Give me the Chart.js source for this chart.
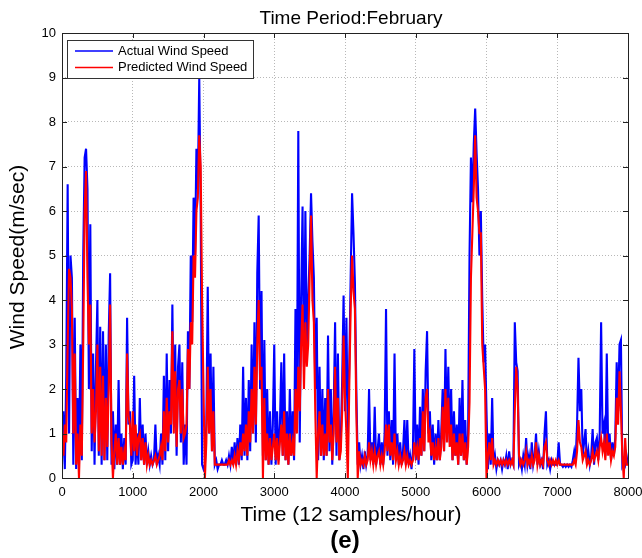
<!DOCTYPE html>
<html>
<head>
<meta charset="utf-8">
<script src="https://cdn.jsdelivr.net/npm/chart.js@4"></script>
<style>
  html, body { margin: 0; padding: 0; background: #fff; }
  #wrap { width: 642px; height: 558px; }
</style>
</head>
<body>
<div id="wrap"><canvas id="c" width="642" height="558"></canvas></div>
<script>
// Wind speed record for February, one value every SAMPLE_STEP samples (12 samples/hour)
const SAMPLE_STEP = 20;

const actualWind = [
  0.3,1.5,0.2,2.3,6.6,1.0,5.0,4.5,0.3,3.6, 0.2,1.8,0.3,3.0,0.4,5.0,7.2,7.4,6.5,2.0, 5.7,0.6,2.8,0.3,2.5,4.0,0.5,3.4,0.3,3.3, 0.4,3.0,0.4,3.2,4.6,0.3,1.5,0.2,1.2,0.3, 2.2,0.3,1.0,0.2,0.9,0.3,3.6,1.2,1.5,0.3,
  0.4,2.3,0.3,1.0,0.3,1.8,0.4,1.2,0.3,1.0, 0.3,0.6,0.3,0.5,0.3,0.4,1.2,0.3,0.5,0.3, 1.0,0.3,2.3,0.4,2.8,0.6,2.2,1.0,3.9,1.2, 3.0,0.5,2.5,3.0,0.8,2.6,0.3,1.2,0.3,3.3, 2.0,5.0,3.5,6.3,5.0,7.4,6.5,9.0,6.0,0.3,
  0.2,0.3,1.2,4.3,1.0,2.8,0.6,2.5,0.3,0.4, 0.2,0.3,0.3,0.4,0.3,0.3,0.4,0.3,0.5,0.3, 0.7,0.3,0.8,0.3,0.9,0.3,1.2,0.4,2.5,0.5, 1.8,0.4,2.2,0.6,3.0,1.0,3.5,0.8,4.6,5.9, 2.0,4.2,0.5,3.1,0.4,2.0,0.3,1.5,0.3,1.2,
  3.0,0.3,1.5,0.4,1.2,2.6,0.5,2.8,0.4,1.5, 0.3,2.0,0.5,1.5,0.4,3.8,1.5,7.8,0.8,4.0, 6.1,2.5,6.0,3.0,4.0,5.0,6.4,5.3,4.5,2.0, 3.6,0.4,2.5,0.5,2.0,0.4,1.8,0.5,3.2,0.6, 2.0,0.3,1.5,3.5,0.5,2.8,0.4,0.8,2.2,4.1,
  1.5,3.6,1.0,2.5,4.5,6.4,5.5,4.4,2.0,0.3, 0.8,0.3,0.5,0.2,0.6,0.3,0.5,2.0,0.4,0.8, 0.3,1.6,0.3,0.6,1.0,0.3,0.8,0.3,1.0,3.8, 0.5,1.5,0.4,1.3,0.3,2.8,0.4,1.0,0.3,0.8, 0.3,0.6,1.3,0.3,1.3,0.3,0.5,0.2,0.6,2.9,
  0.4,1.2,0.3,1.6,0.5,2.0,0.6,2.4,3.3,1.0, 1.5,0.4,1.2,0.3,1.0,0.4,1.3,0.4,1.0,2.0, 0.6,2.9,1.0,2.5,0.8,2.0,0.4,1.5,0.5,1.2, 0.3,1.8,0.5,2.2,0.4,1.3,0.3,1.0,5.0,7.2, 6.2,7.5,8.3,7.3,6.5,5.0,6.0,4.0,2.6,3.0,
  1.5,0.2,1.0,0.3,1.8,0.3,0.5,0.2,0.4,0.3, 0.4,0.2,0.4,0.3,0.5,0.2,0.6,0.3,0.4,0.3, 3.5,2.6,2.4,0.3,0.4,0.2,0.5,0.3,0.9,0.3, 0.5,0.2,0.8,0.3,0.5,1.0,0.3,0.6,0.3,0.4, 0.2,1.0,1.5,0.3,0.4,0.2,0.4,0.3,0.3,0.3,
  0.3,0.8,0.3,0.3,0.25,0.3,0.25,0.3,0.25,0.3, 0.25,0.4,0.6,0.4,1.2,2.7,1.5,2.0,0.5,0.8, 1.1,0.3,0.6,0.3,0.5,1.1,0.3,0.8,0.9,0.4, 1.0,3.5,1.0,1.2,0.5,2.8,0.6,1.0,0.4,0.8, 0.5,0.9,2.6,1.5,3.0,3.1,0.3,0.4,0.3,0.5,
  0.3
];

const predictedWind = [
  1.0,0.5,1.2,0.8,3.0,4.7,4.5,3.8,1.0,2.8, 0.3,1.0,0.0,1.2,0.5,3.0,6.0,6.9,4.5,3.0, 3.9,1.0,2.0,0.8,1.5,3.0,0.6,2.5,0.5,2.3, 0.4,1.8,0.7,2.0,3.9,0.8,0.0,0.6,1.0,0.3, 0.9,0.3,0.7,0.3,0.6,0.4,2.8,1.4,1.2,0.5,
  1.5,0.6,1.2,0.5,0.9,1.0,0.4,0.9,0.3,0.8, 0.3,0.5,0.3,0.4,0.3,0.4,0.5,0.3,0.4,0.5, 0.7,0.4,1.5,0.6,1.8,0.8,1.5,1.2,3.3,1.0, 2.4,0.7,2.0,2.2,1.0,2.0,0.9,1.0,1.2,2.9, 2.0,3.5,3.0,5.0,4.5,6.0,6.3,7.7,7.0,4.0,
  2.0,0.0,0.8,2.5,1.0,2.0,0.6,1.5,0.3,0.3, 0.3,0.3,0.3,0.3,0.3,0.3,0.3,0.3,0.4,0.3, 0.4,0.3,0.5,0.3,0.6,0.4,0.8,0.5,1.0,0.6, 1.2,0.5,1.5,0.8,2.0,1.0,2.5,1.2,3.0,4.0, 2.2,2.5,0.0,1.8,0.4,1.0,0.3,0.9,0.4,0.7,
  1.0,0.4,0.9,0.3,0.8,1.2,0.5,1.5,0.4,1.0, 0.3,1.0,0.5,0.8,0.5,2.0,1.0,2.5,1.5,3.0, 3.9,2.0,3.5,2.5,3.0,4.5,5.9,4.0,3.5,1.5, 0.0,1.0,1.5,0.5,1.2,0.5,1.0,0.5,2.0,0.8, 1.2,0.4,1.0,2.5,0.8,1.8,0.4,0.6,1.5,3.2,
  1.8,1.0,0.0,2.0,3.8,5.0,4.2,3.8,1.5,0.0, 0.6,0.3,0.4,0.3,0.5,0.3,0.4,0.8,0.4,0.6, 0.3,0.6,0.3,0.5,0.6,0.3,0.5,0.3,0.6,1.2, 0.6,1.2,0.5,0.8,0.4,1.0,0.4,0.6,0.3,0.5, 0.3,0.4,0.6,0.3,0.5,0.3,0.4,0.3,0.4,0.8,
  0.5,0.7,0.4,0.9,0.5,1.5,0.6,1.8,2.0,0.8, 1.0,0.5,0.8,0.4,0.7,0.4,0.9,0.4,0.7,1.6, 0.6,2.0,0.8,1.8,0.7,1.2,0.4,1.0,0.5,0.8, 0.3,1.0,0.5,1.0,0.4,0.8,0.3,0.7,1.7,4.5, 5.5,6.5,7.7,6.3,6.0,5.5,5.5,3.0,2.5,2.0,
  0.0,0.5,0.8,0.4,0.9,0.3,0.4,0.3,0.4,0.3, 0.4,0.3,0.4,0.3,0.4,0.3,0.4,0.3,0.4,0.3, 1.5,2.5,2.0,0.5,0.3,0.4,0.3,0.4,0.6,0.3, 0.4,0.3,0.5,0.3,0.4,0.8,0.3,0.5,0.3,0.4, 0.3,0.7,0.8,0.4,0.3,0.4,0.3,0.4,0.3,0.4,
  0.3,0.4,0.3,0.3,0.3,0.3,0.3,0.3,0.3,0.3, 0.3,0.3,0.4,0.3,0.6,1.3,0.8,0.7,0.4,0.5, 0.6,0.3,0.4,0.3,0.4,0.6,0.4,0.5,0.6,0.4, 0.7,0.9,0.6,0.8,0.4,1.0,0.5,0.8,0.4,0.6, 0.5,0.7,1.8,1.2,2.4,1.5,0.5,0.0,0.9,0.3,
  0.3
];

const xTickValues = [0, 1000, 2000, 3000, 4000, 5000, 6000, 7000, 8000];
const yTickValues = [0, 1, 2, 3, 4, 5, 6, 7, 8, 9, 10];

const seriesNames = ['Actual Wind Speed', 'Predicted Wind Speed'];
const seriesColors = ['#0000ff', '#ff0000'];

const FONT = "'Liberation Sans', Arial, Helvetica, sans-serif";

function toPoints(values) {
  return values.map((v, i) => ({ x: i * SAMPLE_STEP, y: v }));
}

// Axes box with inward tick marks on all four sides, legend, titles and panel tag
const framePlugin = {
  id: 'frame',
  afterDatasetsDraw(chart) {
    const { ctx, chartArea: a, scales: { x, y } } = chart;
    ctx.save();
    ctx.strokeStyle = '#222';
    ctx.lineWidth = 1;
    ctx.strokeRect(Math.round(a.left) + 0.5, Math.round(a.top) + 0.5,
                   Math.round(a.right - a.left), Math.round(a.bottom - a.top));
    const tl = 5;
    ctx.beginPath();
    xTickValues.forEach(v => {
      const px = Math.round(x.getPixelForValue(v)) + 0.5;
      ctx.moveTo(px, a.bottom); ctx.lineTo(px, a.bottom - tl);
      ctx.moveTo(px, a.top); ctx.lineTo(px, a.top + tl);
    });
    yTickValues.forEach(v => {
      const py = Math.round(y.getPixelForValue(v)) + 0.5;
      ctx.moveTo(a.left, py); ctx.lineTo(a.left + tl, py);
      ctx.moveTo(a.right, py); ctx.lineTo(a.right - tl, py);
    });
    ctx.stroke();

    // legend
    const lx = a.left + 5, ly = a.top + 7, lw = 186, lh = 38;
    ctx.fillStyle = '#fff';
    ctx.fillRect(lx, ly, lw, lh);
    ctx.strokeStyle = '#333';
    ctx.strokeRect(lx + 0.5, ly + 0.5, lw, lh);
    ctx.font = '13px ' + FONT;
    ctx.textBaseline = 'middle';
    ctx.textAlign = 'left';
    seriesNames.forEach((name, i) => {
      const yy = ly + 11 + i * 16.5;
      ctx.strokeStyle = seriesColors[i];
      ctx.lineWidth = 1.5;
      ctx.beginPath();
      ctx.moveTo(lx + 8, yy); ctx.lineTo(lx + 46, yy);
      ctx.stroke();
      ctx.fillStyle = '#000';
      ctx.fillText(name, lx + 51, yy);
    });

    // titles
    ctx.fillStyle = '#000';
    ctx.textAlign = 'center';
    ctx.textBaseline = 'middle';
    ctx.font = '19px ' + FONT;
    ctx.fillText('Time Period:February', 351, 19);
    ctx.font = '21px ' + FONT;
    ctx.fillText('Time (12 samples/hour)', 351, 515);
    ctx.save();
    ctx.translate(18, 257);
    ctx.rotate(-Math.PI / 2);
    ctx.fillText('Wind Speed(m/sec)', 0, 0);
    ctx.restore();

    // panel tag
    ctx.font = 'bold 24px ' + FONT;
    ctx.fillText('(e)', 345, 541);
    ctx.restore();
  }
};

new Chart(document.getElementById('c'), {
  type: 'line',
  data: {
    datasets: [
      { label: seriesNames[0], data: toPoints(actualWind), borderColor: seriesColors[0],
        borderWidth: 2.1, pointRadius: 0, tension: 0, order: 2 },
      { label: seriesNames[1], data: toPoints(predictedWind), borderColor: seriesColors[1],
        borderWidth: 2.1, pointRadius: 0, tension: 0, order: 1 }
    ]
  },
  options: {
    responsive: false,
    animation: false,
    devicePixelRatio: 1,
    layout: { padding: { left: 0, right: 14, top: 33, bottom: 0 } },
    plugins: {
      legend: { display: false },
      tooltip: { enabled: false },
      title: { display: false }
    },
    scales: {
      x: {
        type: 'linear',
        min: 0, max: 8000,
        afterFit(s) { s.height = 80; s.paddingLeft = 0; s.paddingRight = 0; },
        afterBuildTicks(s) { s.ticks = xTickValues.map(v => ({ value: v })); },
        grid: { color: '#b8b8b8', lineWidth: 1, drawTicks: false },
        border: { display: false, dash: [1, 2] },
        ticks: { color: '#000', padding: 7, maxRotation: 0, font: { family: FONT, size: 13 },
                 callback: v => String(v) }
      },
      y: {
        min: 0, max: 10,
        afterFit(s) { s.width = 62; },
        afterBuildTicks(s) { s.ticks = yTickValues.map(v => ({ value: v })); },
        grid: { color: '#b8b8b8', lineWidth: 1, drawTicks: false },
        border: { display: false, dash: [1, 2] },
        ticks: { color: '#000', padding: 6, font: { family: FONT, size: 13 },
                 callback: v => String(v) }
      }
    }
  },
  plugins: [framePlugin]
});
</script>
</body>
</html>
